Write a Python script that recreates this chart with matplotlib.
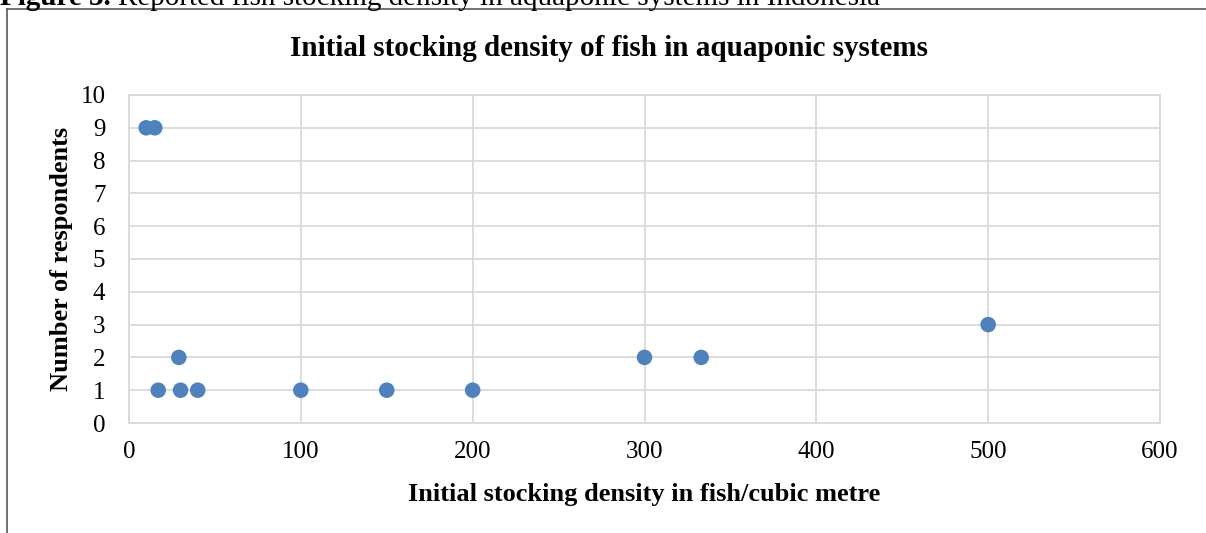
import matplotlib
matplotlib.use("Agg")
import matplotlib.pyplot as plt
from matplotlib.lines import Line2D

# Stocking density (fish per cubic metre) and number of respondents reporting it
density = [10, 15, 17, 29, 30, 40, 100, 150, 200, 300, 333, 500]
respondents = [9, 9, 1, 2, 1, 1, 1, 1, 1, 2, 2, 3]

x_ticks = [0, 100, 200, 300, 400, 500, 600]
y_ticks = list(range(0, 11))

title = "Initial stocking density of fish in aquaponic systems"
x_label = "Initial stocking density in fish/cubic metre"
y_label = "Number of respondents"
caption_num = "Figure 3."
caption_text = "Reported fish stocking density in aquaponic systems in Indonesia"

plt.rcParams["font.family"] = ["Liberation Serif", "DejaVu Serif"]

W, H = 1206, 533
fig = plt.figure(figsize=(W / 100, H / 100), dpi=100)
fig.patch.set_facecolor("white")
renderer = fig.canvas.get_renderer()

# Caption above the chart frame (runs off the top of the page)
cap_size = 21
cap_base = 1 - 5 / H
t1 = fig.text(0.0, cap_base, caption_num, fontsize=cap_size, fontweight="bold",
              ha="left", va="baseline")
w1 = t1.get_window_extent(renderer).width
fig.text((w1 + 7) / W, cap_base, caption_text, fontsize=cap_size,
         ha="left", va="baseline")

# Chart frame
frame_color = "#595959"
fig.add_artist(Line2D([7 / W, 1.0], [1 - 9 / H, 1 - 9 / H],
                      transform=fig.transFigure, color=frame_color, lw=1.2))
fig.add_artist(Line2D([7 / W, 7 / W], [1 - 9 / H, 0.0],
                      transform=fig.transFigure, color=frame_color, lw=1.2))

ax = fig.add_axes([129 / W, 1 - 423 / H, (1160 - 129) / W, (423 - 95) / H])
ax.scatter(density, respondents, s=125, color="#4f81bd", zorder=3,
           edgecolors="none")

ax.set_xlim(0, 600)
ax.set_ylim(0, 10)
ax.set_xticks(x_ticks)
ax.set_yticks(y_ticks)
ax.grid(True, color="#d9d9d9", lw=1.3, zorder=0)
ax.set_axisbelow(True)
for side in ax.spines.values():
    side.set_color("#d9d9d9")
    side.set_linewidth(1.3)
ax.tick_params(length=0, labelsize=18)
ax.tick_params(axis="y", pad=17)
ax.tick_params(axis="x", pad=13)

fig.text(609 / W, 1 - 56 / H, title, fontsize=21, fontweight="bold",
         ha="center", va="baseline")
ax.set_xlabel(x_label, fontsize=19, fontweight="bold", labelpad=14)
fig.text(62 / W, 1 - 259 / H, y_label, fontsize=19, fontweight="bold",
         rotation=90, ha="center", va="center")

fig.savefig("out.png", dpi=100, facecolor="white")
